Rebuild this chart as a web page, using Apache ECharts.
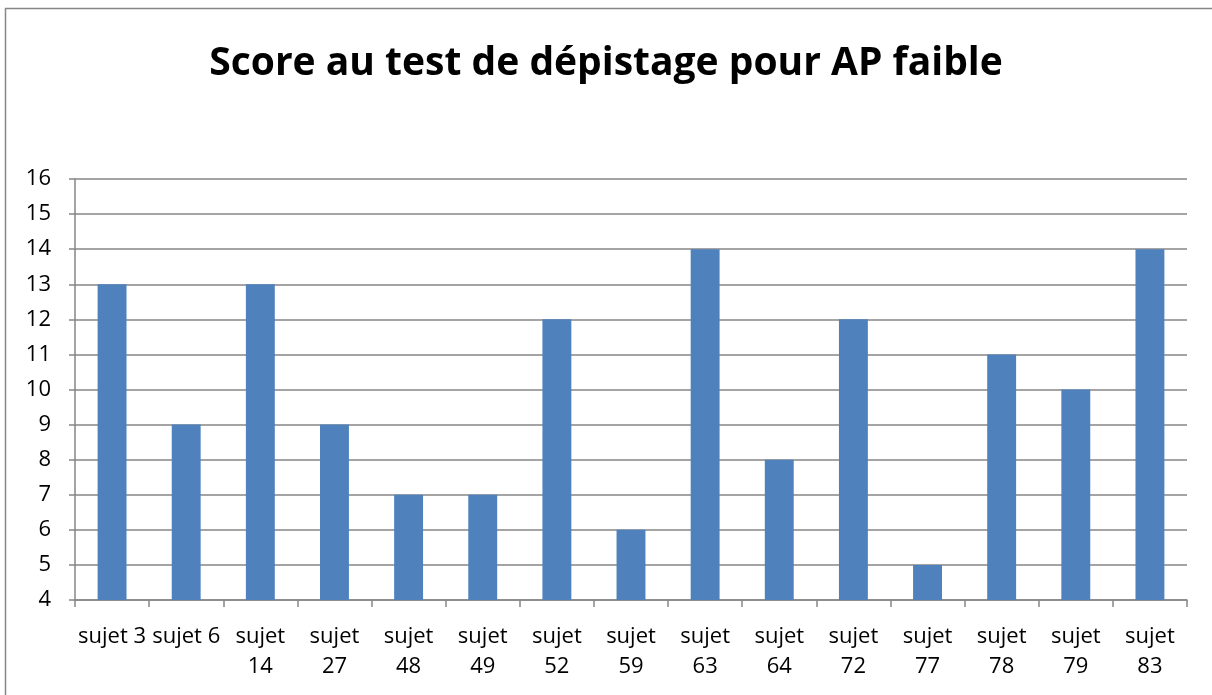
<!DOCTYPE html>
<html>
<head>
<meta charset="utf-8">
<script src="https://cdn.jsdelivr.net/npm/echarts@6/dist/echarts.min.js"></script>
<style>
  html, body { margin: 0; padding: 0; background: #fff; }
  #chart { width: 1212px; height: 695px; }
</style>
</head>
<body>
<div id="chart"></div>
<script>
// Chart data
const chartTitle = 'Score au test de dépistage pour AP faible';
const subjects = ['sujet 3', 'sujet 6', 'sujet 14', 'sujet 27', 'sujet 48', 'sujet 49', 'sujet 52',
    'sujet 59', 'sujet 63', 'sujet 64', 'sujet 72', 'sujet 77', 'sujet 78', 'sujet 79', 'sujet 83'];
const scores = [13, 9, 13, 9, 7, 7, 12, 6, 14, 8, 12, 5, 11, 10, 14];
const yMin = 4;
const yMax = 16;

const lineColor = '#868686';
const fontFamily = '"Open Sans", "DejaVu Sans", sans-serif';

const chart = echarts.init(document.getElementById('chart'));

// long labels wrap onto two lines, like the original
const wrapLabel = (name) => (name.length > 7 ? name.replace(' ', '\n') : name);

chart.setOption({
    animation: false,
    title: {
        text: chartTitle,
        left: 'center',
        top: 39,
        textStyle: {
            fontFamily: fontFamily,
            fontSize: 39,
            fontWeight: 'bold',
            color: '#000'
        }
    },
    graphic: [{
        type: 'rect',
        shape: { x: 5.5, y: 8.5, width: 1400, height: 900 },
        style: { fill: 'none', stroke: lineColor, lineWidth: 1.5 },
        silent: true
    }],
    grid: {
        left: 75,
        right: 25,
        top: 179,
        bottom: 95,
        containLabel: false
    },
    xAxis: {
        type: 'category',
        data: subjects,
        axisLine: { show: true, lineStyle: { color: lineColor, width: 1.5 } },
        axisTick: { show: true, length: 7, lineStyle: { color: lineColor, width: 1.5 } },
        axisLabel: {
            interval: 0,
            margin: 22,
            fontFamily: fontFamily,
            fontSize: 22,
            lineHeight: 30,
            color: '#000',
            formatter: wrapLabel
        }
    },
    yAxis: {
        type: 'value',
        min: yMin,
        max: yMax,
        interval: 1,
        axisLine: { show: true, lineStyle: { color: lineColor, width: 1.5 } },
        axisTick: { show: true, length: 6, lineStyle: { color: lineColor, width: 1.5 } },
        splitLine: { show: true, lineStyle: { color: lineColor, width: 1.5 } },
        axisLabel: {
            margin: 24,
            fontFamily: fontFamily,
            fontSize: 22,
            color: '#000'
        }
    },
    series: [{
        type: 'bar',
        data: scores,
        barWidth: '39%',
        itemStyle: { color: '#4F81BD' }
    }]
});
</script>
</body>
</html>
